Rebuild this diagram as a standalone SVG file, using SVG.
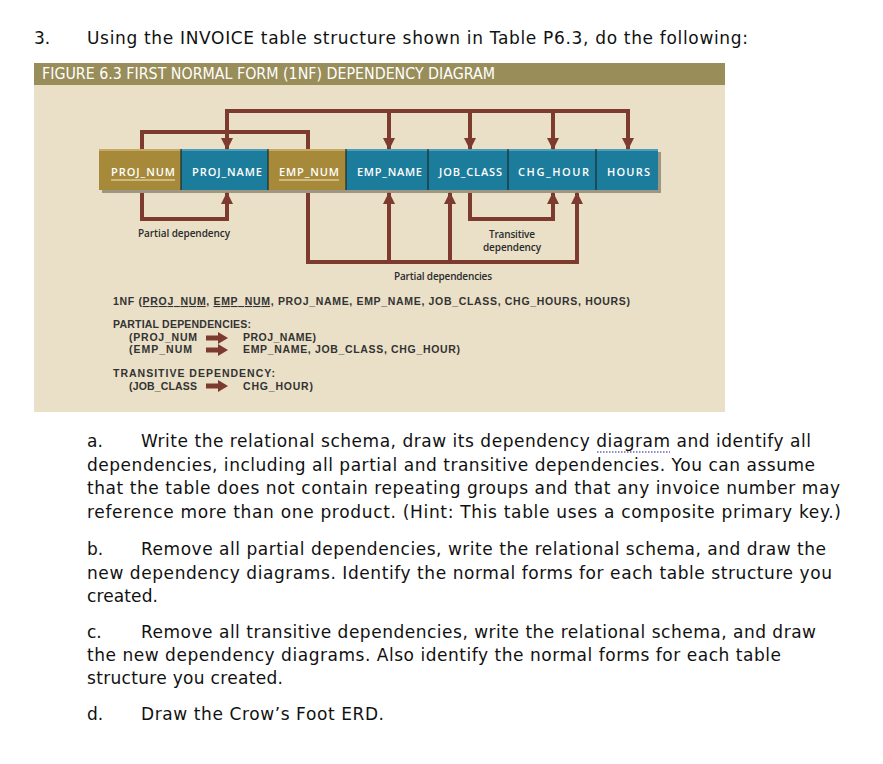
<svg xmlns="http://www.w3.org/2000/svg" width="883" height="764" viewBox="0 0 883 764">
<style>
.q{font-family:"DejaVu Sans","Liberation Sans",sans-serif;font-size:17px;fill:#111}
.hdr{font-family:"Liberation Sans Narrow","DejaVu Sans Condensed","Liberation Sans",sans-serif;font-size:15px;fill:#fff}
.cell{font-family:"Open Sans","Liberation Sans",sans-serif;font-weight:600;font-size:11px;fill:#fff;text-anchor:middle}
.lbl{font-family:"Open Sans","Liberation Sans",sans-serif;font-weight:600;font-size:10px;fill:#2b2b2b}
.blk{font-family:"Liberation Sans",sans-serif;font-weight:bold;font-size:10.5px;fill:#333}
.gold{fill:#A68A3A}
.blue{fill:#1B7C9C}
.sep{stroke:#1d2b2e;stroke-width:1.2}
.con{fill:none;stroke:#7D3A2F;stroke-width:4;stroke-linejoin:miter}
</style>
<defs>
<marker id="ah" viewBox="0 0 12 12" refX="11" refY="6" markerWidth="3" markerHeight="3" orient="auto" markerUnits="strokeWidth">
<path d="M0,0 L12,6 L0,12 Z" fill="#7D3A2F"/>
</marker>
<path id="fat" d="M0,-2.6 H12 V-6 L22,0 L12,6 V2.6 H0 Z" fill="#7D3A2F"/>
</defs>
<rect width="883" height="764" fill="#fff"/>

<!-- question title -->
<text class="q" x="34" y="44">3.</text>
<text class="q" x="87" y="44" textLength="661">Using the INVOICE table structure shown in Table P6.3, do the following:</text>

<!-- figure panel -->
<rect x="34" y="63" width="691" height="349" fill="#E9E0C7"/>
<rect x="34" y="63" width="691" height="22" fill="#998D5A"/>
<text class="hdr" x="42" y="79" textLength="453" lengthAdjust="spacingAndGlyphs">FIGURE 6.3  FIRST NORMAL FORM (1NF) DEPENDENCY DIAGRAM</text>

<!-- bar shadow -->
<rect x="102" y="152" width="559" height="41" fill="#5f5a48" opacity="0.55"/>

<g id="proj_num">
<rect class="gold" x="99" y="149" width="82" height="41"/>
<rect x="99" y="149" width="82" height="2" fill="#C4AA62"/>
<text class="cell" x="143" y="176" textLength="64">PROJ_NUM</text>
<line x1="111" y1="180" x2="175" y2="180" stroke="#F2E9C8" stroke-width="1"/>
</g>
<g id="proj_name">
<rect class="blue" x="181" y="149" width="87" height="41"/>
<rect x="181" y="149" width="87" height="2" fill="#4E9EBA"/>
<text class="cell" x="227" y="176" textLength="70">PROJ_NAME</text>
</g>
<g id="emp_num">
<rect class="gold" x="268" y="149" width="78" height="41"/>
<rect x="268" y="149" width="78" height="2" fill="#C4AA62"/>
<text class="cell" x="309" y="176" textLength="60">EMP_NUM</text>
<line x1="279" y1="180" x2="339" y2="180" stroke="#F2E9C8" stroke-width="1"/>
</g>
<g id="emp_name">
<rect class="blue" x="346" y="149" width="82" height="41"/>
<rect x="346" y="149" width="82" height="2" fill="#4E9EBA"/>
<text class="cell" x="389.5" y="176" textLength="65">EMP_NAME</text>
</g>
<g id="job_class">
<rect class="blue" x="428" y="149" width="80" height="41"/>
<rect x="428" y="149" width="80" height="2" fill="#4E9EBA"/>
<text class="cell" x="470.5" y="176" textLength="63">JOB_CLASS</text>
</g>
<g id="chg_hour">
<rect class="blue" x="508" y="149" width="88" height="41"/>
<rect x="508" y="149" width="88" height="2" fill="#4E9EBA"/>
<text class="cell" x="553.5" y="176" textLength="71">CHG_HOUR</text>
</g>
<g id="hours">
<rect class="blue" x="596" y="149" width="62" height="41"/>
<rect x="596" y="149" width="62" height="2" fill="#4E9EBA"/>
<text class="cell" x="628.5" y="176" textLength="43">HOURS</text>
</g>
<g id="separators">
<line class="sep" x1="181" y1="149" x2="181" y2="190"/>
<line class="sep" x1="268" y1="149" x2="268" y2="190"/>
<line class="sep" x1="346" y1="149" x2="346" y2="190"/>
<line class="sep" x1="428" y1="149" x2="428" y2="190"/>
<line class="sep" x1="508" y1="149" x2="508" y2="190"/>
<line class="sep" x1="596" y1="149" x2="596" y2="190"/>
</g>

<g id="connectors">
<!-- key bracket -->
<path class="con" d="M142,149 V132 H308 V149"/>
<!-- full dependency -->
<path class="con" d="M227,111 H628" stroke-linecap="square"/>
<path class="con" d="M227,111 V149" marker-end="url(#ah)"/>
<path class="con" d="M389,111 V149" marker-end="url(#ah)"/>
<path class="con" d="M470,111 V149" marker-end="url(#ah)"/>
<path class="con" d="M553,111 V149" marker-end="url(#ah)"/>
<path class="con" d="M628,111 V149" marker-end="url(#ah)"/>
<!-- partial dependency PROJ_NUM -->
<path class="con" d="M142,193 V219 H227 V193" marker-end="url(#ah)"/>
<!-- partial dependencies EMP_NUM -->
<path class="con" d="M308,193 V262 H577 V193" marker-end="url(#ah)"/>
<path class="con" d="M389,262 V193" marker-end="url(#ah)"/>
<path class="con" d="M450,262 V193" marker-end="url(#ah)"/>
<!-- transitive -->
<path class="con" d="M470,193 V219 H553 V193" marker-end="url(#ah)"/>
</g>

<text class="lbl" x="138" y="237" textLength="92">Partial dependency</text>
<text class="lbl" x="512" y="238" text-anchor="middle" textLength="46">Transitive</text>
<text class="lbl" x="512" y="251" text-anchor="middle" textLength="58">dependency</text>
<text class="lbl" x="443" y="280" text-anchor="middle" textLength="98">Partial dependencies</text>

<!-- text block -->
<text class="blk" x="113" y="305" textLength="517">1NF (<tspan text-decoration="underline">PROJ_NUM</tspan>, <tspan text-decoration="underline">EMP_NUM</tspan>, PROJ_NAME, EMP_NAME, JOB_CLASS, CHG_HOURS, HOURS)</text>
<text class="blk" x="113" y="328" textLength="138">PARTIAL DEPENDENCIES:</text>
<text class="blk" x="129" y="341" textLength="68">(PROJ_NUM</text>
<use href="#fat" x="206" y="338"/>
<text class="blk" x="243" y="341" textLength="73">PROJ_NAME)</text>
<text class="blk" x="129" y="353" textLength="63">(EMP_NUM</text>
<use href="#fat" x="206" y="350"/>
<text class="blk" x="243" y="353" textLength="217">EMP_NAME, JOB_CLASS, CHG_HOUR)</text>
<text class="blk" x="113" y="377" textLength="162">TRANSITIVE DEPENDENCY:</text>
<text class="blk" x="129" y="390" textLength="68">(JOB_CLASS</text>
<use href="#fat" x="206" y="386"/>
<text class="blk" x="243" y="390" textLength="70">CHG_HOUR)</text>

<!-- questions -->
<text class="q" x="87" y="447">a.</text>
<text class="q" x="141" y="447" textLength="670">Write the relational schema, draw its dependency diagram and identify all</text>
<line x1="597" y1="452" x2="670" y2="452" stroke="#6a6ab0" stroke-width="1.5" stroke-dasharray="1.5 1.5"/>
<text class="q" x="87" y="471" textLength="728">dependencies, including all partial and transitive dependencies. You can assume</text>
<text class="q" x="87" y="494" textLength="753">that the table does not contain repeating groups and that any invoice number may</text>
<text class="q" x="87" y="518" textLength="754">reference more than one product. (Hint: This table uses a composite primary key.)</text>

<text class="q" x="87" y="555">b.</text>
<text class="q" x="141" y="555" textLength="685">Remove all partial dependencies, write the relational schema, and draw the</text>
<text class="q" x="87" y="579" textLength="745">new dependency diagrams. Identify the normal forms for each table structure you</text>
<text class="q" x="87" y="602" textLength="71">created.</text>

<text class="q" x="87" y="638">c.</text>
<text class="q" x="141" y="638" textLength="675">Remove all transitive dependencies, write the relational schema, and draw</text>
<text class="q" x="87" y="661" textLength="694">the new dependency diagrams. Also identify the normal forms for each table</text>
<text class="q" x="87" y="684" textLength="196">structure you created.</text>

<text class="q" x="87" y="720">d.</text>
<text class="q" x="141" y="720" textLength="243">Draw the Crow’s Foot ERD.</text>
</svg>
